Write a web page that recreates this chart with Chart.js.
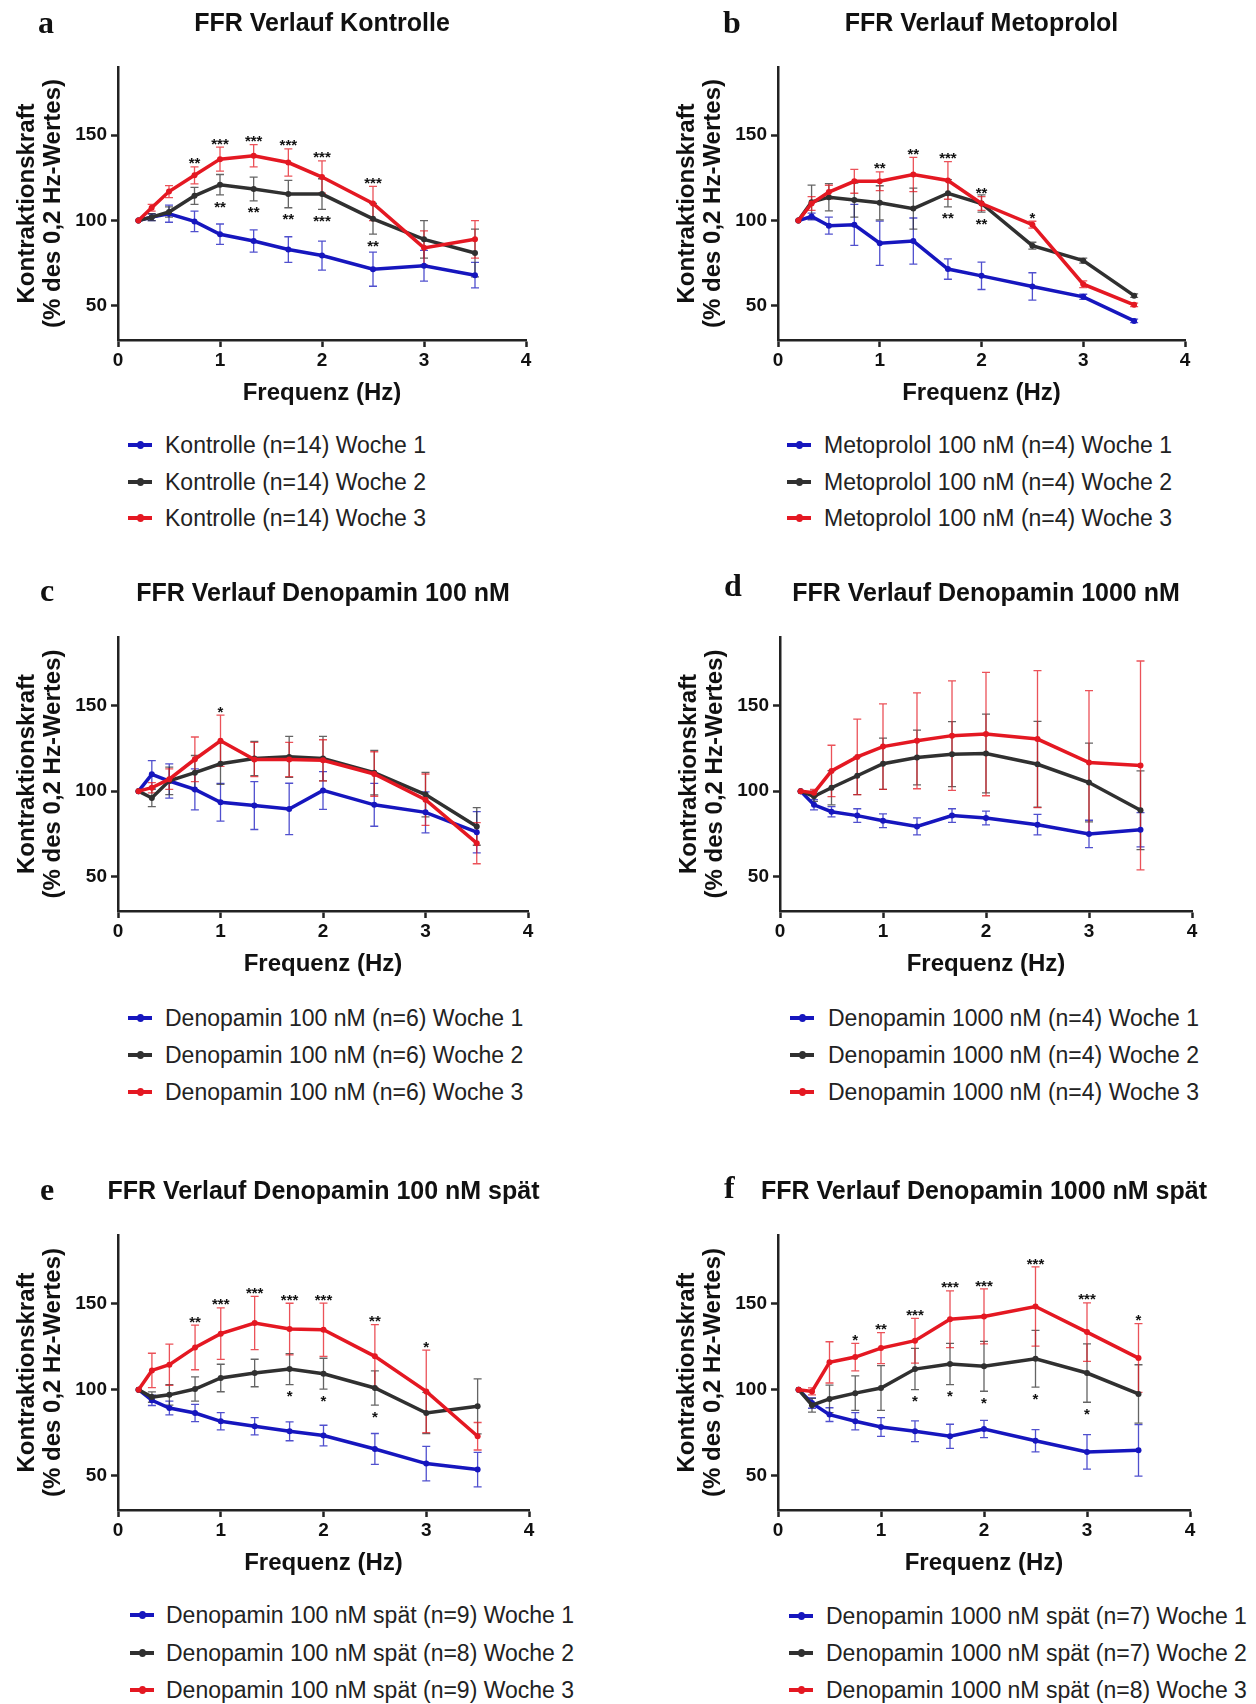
<!DOCTYPE html>
<html>
<head>
<meta charset="utf-8">
<script src="https://cdn.jsdelivr.net/npm/chart.js@4.4.1/dist/chart.umd.min.js"></script>
<style>
  body {
    margin: 0;
    width: 1256px;
    height: 1704px;
    position: relative;
    overflow: hidden;
    background: #fff;
    font-family: "Liberation Sans", Arial, sans-serif;
  }
  canvas {
    position: absolute;
  }
  .legend-marker {
    position: absolute;
    width: 24px;
    height: 4px;
  }
  .legend-marker span {
    position: absolute;
    left: 9px;
    top: -2px;
    width: 7px;
    height: 8px;
    border-radius: 50%;
  }
  .legend-text {
    position: absolute;
    height: 30px;
    line-height: 30px;
    font-size: 23px;
    color: #222;
    white-space: nowrap;
  }
</style>
</head>
<body>
<canvas id="chartA"></canvas>
<canvas id="chartB"></canvas>
<canvas id="chartC"></canvas>
<canvas id="chartD"></canvas>
<canvas id="chartE"></canvas>
<canvas id="chartF"></canvas>
<script>
// Frequenzen (Hz) und Achsenbeschriftung
const freqHz = [0.2, 0.33, 0.5, 0.75, 1, 1.33, 1.67, 2, 2.5, 3, 3.5];
const xTicks = [0, 1, 2, 3, 4];
const yTicks = [50, 100, 150];

// a - Kontrolle
const kontrolleLabels = ["Kontrolle (n=14) Woche 1", "Kontrolle (n=14) Woche 2", "Kontrolle (n=14) Woche 3"];
const kontrolleW1 = [100, 102, 104, 99.5, 92, 88, 83, 79.5, 71.5, 73.5, 68];
const kontrolleW1Sem = [0, 2, 5, 6, 6, 6.5, 7.5, 8.5, 10, 9, 7.5];
const kontrolleW2 = [100, 102, 105, 114.5, 121, 118.5, 115.5, 115.5, 101, 89, 81];
const kontrolleW2Sem = [0, 2, 3, 5, 6, 7, 8, 9, 9, 11, 14];
const kontrolleW3 = [100, 107.5, 117, 126.5, 136, 138, 134, 125.5, 110, 84, 89];
const kontrolleW3Sem = [0, 2, 3.5, 5, 7, 6.5, 8, 9.5, 10, 10, 11];
const kontrolleStarsW3 = ["", "", "", "**", "***", "***", "***", "***", "***", "", ""];
const kontrolleStarsW2 = ["", "", "", "", "**", "**", "**", "***", "**", "", ""];

// b - Metoprolol
const metoLabels = ["Metoprolol 100 nM (n=4) Woche 1", "Metoprolol 100 nM (n=4) Woche 2", "Metoprolol 100 nM (n=4) Woche 3"];
const metoW1 = [100, 102.4, 97, 97.5, 86.7, 88, 71.6, 67.6, 61.4, 55.3, 41.2];
const metoW1Sem = [0, 2, 5, 12, 13, 13.5, 6, 8, 8, 1.5, 1];
const metoW2 = [100, 110.8, 113.7, 112, 110.4, 107, 116, 110, 85.3, 76.5, 56];
const metoW2Sem = [0, 10, 8, 10, 10, 12, 8, 5, 2, 1.5, 1];
const metoW3 = [100, 110, 116.7, 123, 123, 127, 123.5, 110, 97.6, 62.7, 50.6];
const metoW3Sem = [0, 4, 4, 7, 5.5, 10, 11, 4, 2, 2, 1];
const metoStarsW3 = ["", "", "", "", "**", "**", "***", "**", "*", "", ""];
const metoStarsW2 = ["", "", "", "", "", "", "**", "**", "", "", ""];

// c - Denopamin 100 nM
const deno100Labels = ["Denopamin 100 nM (n=6) Woche 1", "Denopamin 100 nM (n=6) Woche 2", "Denopamin 100 nM (n=6) Woche 3"];
const deno100W1 = [100, 109.8, 105.9, 101, 93.5, 91.6, 89.6, 100.4, 92, 87.6, 76];
const deno100W1Sem = [0, 8, 10, 12, 11, 14, 15, 11, 12.5, 12, 12];
const deno100W2 = [100, 96, 106, 110.8, 116, 119, 120, 119, 110.8, 98, 79.4];
const deno100W2Sem = [0, 5, 8, 10, 12, 10, 12, 13, 13, 13, 11];
const deno100W3 = [100, 102, 107, 118.6, 129.4, 118.5, 118.5, 118, 110, 95, 69.6];
const deno100W3Sem = [0, 3, 6, 13, 15, 10, 10, 12, 13, 15, 12];
const deno100StarsW3 = ["", "", "", "", "*", "", "", "", "", "", ""];
const deno100StarsW2 = ["", "", "", "", "", "", "", "", "", "", ""];

// d - Denopamin 1000 nM
const deno1000Labels = ["Denopamin 1000 nM (n=4) Woche 1", "Denopamin 1000 nM (n=4) Woche 2", "Denopamin 1000 nM (n=4) Woche 3"];
const deno1000W1 = [100, 92, 88, 85.7, 82.7, 79.4, 85.7, 84.3, 80.4, 75, 77.5];
const deno1000W1Sem = [0, 3, 3, 4, 4, 5, 4, 4, 6, 8, 10];
const deno1000W2 = [100, 97, 102, 109, 116, 119.6, 121.6, 122, 115.7, 105, 88.8];
const deno1000W2Sem = [0, 3, 10, 11, 15, 16, 19, 23, 25, 23, 23];
const deno1000W3 = [100, 99, 111.8, 120, 126, 129.4, 132.4, 133.3, 130.4, 116.7, 115];
const deno1000W3Sem = [0, 2, 15, 22, 25, 28, 32, 36, 40, 42, 61];
const deno1000StarsW3 = ["", "", "", "", "", "", "", "", "", "", ""];
const deno1000StarsW2 = ["", "", "", "", "", "", "", "", "", "", ""];

// e - Denopamin 100 nM spät
const deno100SpaetLabels = ["Denopamin 100 nM spät (n=9) Woche 1", "Denopamin 100 nM spät (n=8) Woche 2", "Denopamin 100 nM spät (n=9) Woche 3"];
const deno100SpaetW1 = [100, 93.8, 89.3, 86.4, 81.6, 78.7, 75.8, 73.3, 65.5, 57, 53.5];
const deno100SpaetW1Sem = [0, 3, 4, 5, 5, 5, 5.5, 6, 9, 10, 10];
const deno100SpaetW2 = [100, 95.7, 97, 100.4, 106.8, 109.7, 112, 109.3, 101, 86.4, 90.3];
const deno100SpaetW2Sem = [0, 3, 6, 7, 8, 8, 9, 9, 10, 12, 16];
const deno100SpaetW3 = [100, 111.2, 114.5, 124.6, 132.6, 138.8, 135.3, 134.9, 119.4, 99, 72.9];
const deno100SpaetW3Sem = [0, 10, 12, 13, 15, 15.5, 15, 15.5, 18.4, 24, 8];
const deno100SpaetStarsW3 = ["", "", "", "**", "***", "***", "***", "***", "**", "*", ""];
const deno100SpaetStarsW2 = ["", "", "", "", "", "", "*", "*", "*", "", ""];

// f - Denopamin 1000 nM spät
const deno1000SpaetLabels = ["Denopamin 1000 nM spät (n=7) Woche 1", "Denopamin 1000 nM spät (n=7) Woche 2", "Denopamin 1000 nM spät (n=8) Woche 3"];
const deno1000SpaetW1 = [100, 92.2, 85.5, 81.6, 78.3, 75.8, 72.9, 77.1, 70.3, 63.8, 64.7];
const deno1000SpaetW1Sem = [0, 3, 4, 5, 5.5, 6, 7, 5, 6.5, 10, 15];
const deno1000SpaetW2 = [100, 91, 94.6, 98, 101, 112, 115, 113.6, 118, 109.7, 97.5];
const deno1000SpaetW2Sem = [0, 4, 8, 10, 13, 12, 12, 14.5, 16.5, 17, 17];
const deno1000SpaetW3 = [100, 99, 115.9, 119, 124.2, 128.5, 141, 142.6, 148.4, 133.5, 118.4];
const deno1000SpaetW3Sem = [0, 2, 12, 8, 9, 13, 16.5, 16, 23, 17, 20];
const deno1000SpaetStarsW3 = ["", "", "", "*", "**", "***", "***", "***", "***", "***", "*"];
const deno1000SpaetStarsW2 = ["", "", "", "", "", "*", "*", "*", "*", "*", ""];

const seriesColors = ["rgb(22, 22, 190)", "rgb(48, 48, 48)", "rgb(228, 24, 34)"];
const errorColors = ["rgba(22, 22, 190, 0.75)", "rgba(48, 48, 48, 0.75)", "rgba(228, 24, 34, 0.75)"];
const textColor = "#111";
const fontFamily = "'Liberation Sans', Arial, sans-serif";

Chart.defaults.font.family = fontFamily;
Chart.defaults.color = textColor;

// Fehlerbalken (SEM) hinter den Linien
const errorBars = {
  id: "errorBars",
  beforeDatasetsDraw(chart, args, opts) {
    const { ctx } = chart;
    const x = chart.scales.x;
    const y = chart.scales.y;
    ctx.save();
    ctx.lineWidth = opts.lineWidth;
    chart.data.datasets.forEach((ds) => {
      ctx.strokeStyle = ds.errorColor;
      ds.data.forEach((pt, i) => {
        const e = ds.sem[i];
        if (!e) return;
        const px = x.getPixelForValue(pt.x);
        const top = y.getPixelForValue(pt.y + e);
        const bot = y.getPixelForValue(pt.y - e);
        const c = opts.capWidth / 2;
        ctx.beginPath();
        ctx.moveTo(px, top);
        ctx.lineTo(px, bot);
        ctx.moveTo(px - c, top);
        ctx.lineTo(px + c, top);
        ctx.moveTo(px - c, bot);
        ctx.lineTo(px + c, bot);
        ctx.stroke();
      });
    });
    ctx.restore();
  },
};

// Signifikanzsterne über Woche 3 und unter Woche 2
const significance = {
  id: "significance",
  afterDatasetsDraw(chart, args, opts) {
    const { ctx } = chart;
    const x = chart.scales.x;
    const y = chart.scales.y;
    const lift = opts.size * 0.57;
    ctx.save();
    ctx.font = "bold " + opts.size + "px " + fontFamily;
    ctx.fillStyle = textColor;
    ctx.textAlign = "center";
    ctx.textBaseline = "alphabetic";
    opts.marks.forEach((m) => {
      const ds = chart.data.datasets[m.dataset];
      m.stars.forEach((s, i) => {
        if (!s) return;
        const pt = ds.data[i];
        const px = x.getPixelForValue(pt.x);
        let py;
        if (m.side === "above") {
          py = y.getPixelForValue(pt.y + ds.sem[i]) - opts.gapAbove + lift;
        } else {
          py = y.getPixelForValue(pt.y - ds.sem[i]) + opts.gapBelow + lift;
        }
        ctx.fillText(s, px, py);
      });
    });
    ctx.restore();
  },
};

// Buchstabe und Titel der Teilabbildung
const panelHeading = {
  id: "panelHeading",
  afterDraw(chart, args, opts) {
    const { ctx, chartArea } = chart;
    ctx.save();
    ctx.fillStyle = textColor;
    ctx.textBaseline = "alphabetic";
    ctx.font = "bold 25px " + fontFamily;
    ctx.textAlign = "center";
    ctx.fillText(opts.title, (chartArea.left + chartArea.right) / 2, opts.titleBaseline);
    ctx.font = "bold 32px 'Liberation Serif', 'Times New Roman', serif";
    ctx.textAlign = "left";
    ctx.fillText(opts.letter, opts.letterX, opts.letterBaseline);
    ctx.restore();
  },
};

Chart.register(errorBars, significance, panelHeading);

const panels = [
  {
    canvas: "chartA", left: 0, top: 0, width: 640, plotRight: 526, plotBottom: 340,
    letter: "a", letterX: 38, letterBaseline: 33,
    legendMarkerX: 128, legendTextX: 165, legendRows: [445, 482, 518],
    title: "FFR Verlauf Kontrolle", labels: kontrolleLabels,
    means: [kontrolleW1, kontrolleW2, kontrolleW3],
    sems: [kontrolleW1Sem, kontrolleW2Sem, kontrolleW3Sem],
    starsAbove: kontrolleStarsW3, starsBelow: kontrolleStarsW2,
  },
  {
    canvas: "chartB", left: 660, top: 0, width: 596, plotRight: 525, plotBottom: 340,
    letter: "b", letterX: 63, letterBaseline: 33,
    legendMarkerX: 787, legendTextX: 824, legendRows: [445, 482, 518],
    title: "FFR Verlauf Metoprolol", labels: metoLabels,
    means: [metoW1, metoW2, metoW3],
    sems: [metoW1Sem, metoW2Sem, metoW3Sem],
    starsAbove: metoStarsW3, starsBelow: metoStarsW2,
  },
  {
    canvas: "chartC", left: 0, top: 570, width: 640, plotRight: 528, plotBottom: 341,
    letter: "c", letterX: 40, letterBaseline: 31,
    legendMarkerX: 128, legendTextX: 165, legendRows: [1018, 1055, 1092],
    title: "FFR Verlauf Denopamin 100 nM", labels: deno100Labels,
    means: [deno100W1, deno100W2, deno100W3],
    sems: [deno100W1Sem, deno100W2Sem, deno100W3Sem],
    starsAbove: deno100StarsW3, starsBelow: deno100StarsW2,
  },
  {
    canvas: "chartD", left: 662, top: 570, width: 594, plotRight: 530, plotBottom: 341,
    letter: "d", letterX: 62, letterBaseline: 26,
    legendMarkerX: 790, legendTextX: 828, legendRows: [1018, 1055, 1092],
    title: "FFR Verlauf Denopamin 1000 nM", labels: deno1000Labels,
    means: [deno1000W1, deno1000W2, deno1000W3],
    sems: [deno1000W1Sem, deno1000W2Sem, deno1000W3Sem],
    starsAbove: deno1000StarsW3, starsBelow: deno1000StarsW2,
  },
  {
    canvas: "chartE", left: 0, top: 1168, width: 640, plotRight: 529, plotBottom: 342,
    letter: "e", letterX: 40, letterBaseline: 32,
    legendMarkerX: 130, legendTextX: 166, legendRows: [1615, 1653, 1690],
    title: "FFR Verlauf Denopamin 100 nM spät", labels: deno100SpaetLabels,
    means: [deno100SpaetW1, deno100SpaetW2, deno100SpaetW3],
    sems: [deno100SpaetW1Sem, deno100SpaetW2Sem, deno100SpaetW3Sem],
    starsAbove: deno100SpaetStarsW3, starsBelow: deno100SpaetStarsW2,
  },
  {
    canvas: "chartF", left: 660, top: 1168, width: 596, plotRight: 530, plotBottom: 342,
    letter: "f", letterX: 64, letterBaseline: 30,
    legendMarkerX: 789, legendTextX: 826, legendRows: [1616, 1653, 1690],
    title: "FFR Verlauf Denopamin 1000 nM spät", labels: deno1000SpaetLabels,
    means: [deno1000SpaetW1, deno1000SpaetW2, deno1000SpaetW3],
    sems: [deno1000SpaetW1Sem, deno1000SpaetW2Sem, deno1000SpaetW3Sem],
    starsAbove: deno1000SpaetStarsW3, starsBelow: deno1000SpaetStarsW2,
  },
];

const plotTop = 67;
const axisX = 118;
const xAxisHeight = 70;

function buildLegend(chart, p) {
  chart.data.datasets.forEach((ds, i) => {
    const cy = p.legendRows[i];
    const marker = document.createElement("div");
    marker.className = "legend-marker";
    marker.style.left = p.legendMarkerX + "px";
    marker.style.top = (cy - 2) + "px";
    marker.style.background = ds.borderColor;
    const dot = document.createElement("span");
    dot.style.background = ds.borderColor;
    marker.appendChild(dot);
    document.body.appendChild(marker);

    const text = document.createElement("div");
    text.className = "legend-text";
    text.style.left = p.legendTextX + "px";
    text.style.top = (cy - 15) + "px";
    text.textContent = ds.label;
    document.body.appendChild(text);
  });
}

panels.forEach((p) => {
  const canvas = document.getElementById(p.canvas);
  const height = p.plotBottom + xAxisHeight + 2;
  canvas.width = p.width;
  canvas.height = height;
  canvas.style.left = p.left + "px";
  canvas.style.top = p.top + "px";

  const datasets = p.means.map((m, k) => ({
    label: p.labels[k],
    data: freqHz.map((f, i) => ({ x: f, y: m[i] })),
    sem: p.sems[k],
    borderColor: seriesColors[k],
    backgroundColor: seriesColors[k],
    errorColor: errorColors[k],
    borderWidth: 3.5,
    pointRadius: 3,
    pointBorderWidth: 0,
    tension: 0,
    order: 3 - k,
  }));

  const chart = new Chart(canvas, {
    type: "line",
    data: { datasets: datasets },
    options: {
      responsive: false,
      animation: false,
      layout: {
        padding: { top: plotTop, right: p.width - p.plotRight, bottom: 2, left: 0 },
      },
      plugins: {
        legend: { display: false },
        tooltip: { enabled: false },
        errorBars: { lineWidth: 1.3, capWidth: 8 },
        significance: {
          size: 15,
          gapAbove: 7,
          gapBelow: 8,
          marks: [
            { dataset: 2, side: "above", stars: p.starsAbove },
            { dataset: 1, side: "below", stars: p.starsBelow },
          ],
        },
        panelHeading: {
          title: p.title,
          titleBaseline: 31,
          letter: p.letter,
          letterX: p.letterX,
          letterBaseline: p.letterBaseline,
        },
      },
      scales: {
        x: {
          type: "linear",
          min: 0,
          max: 4,
          afterBuildTicks: (axis) => {
            axis.ticks = xTicks.map((v) => ({ value: v }));
          },
          afterFit: (scale) => {
            scale.height = xAxisHeight;
          },
          grid: {
            drawOnChartArea: false,
            drawTicks: true,
            tickLength: 7,
            tickWidth: 2.5,
            tickColor: "#222",
          },
          border: { display: true, width: 2.5, color: "#222" },
          ticks: {
            padding: 2,
            color: textColor,
            font: { size: 19, weight: "bold" },
            maxRotation: 0,
          },
          title: {
            display: true,
            text: "Frequenz (Hz)",
            color: textColor,
            font: { size: 24, weight: "bold" },
            padding: { top: 0, bottom: 2 },
          },
        },
        y: {
          type: "linear",
          min: 30,
          max: 190,
          afterBuildTicks: (axis) => {
            axis.ticks = yTicks.map((v) => ({ value: v }));
          },
          afterFit: (scale) => {
            scale.width = axisX;
          },
          grid: {
            drawOnChartArea: false,
            drawTicks: true,
            tickLength: 7,
            tickWidth: 2.5,
            tickColor: "#222",
          },
          border: { display: true, width: 2.5, color: "#222" },
          ticks: {
            padding: 4,
            color: textColor,
            font: { size: 19, weight: "bold" },
          },
          title: {
            display: true,
            text: ["Kontraktionskraft", "(% des 0,2 Hz-Wertes)"],
            color: textColor,
            font: { size: 24, weight: "bold", lineHeight: 26 / 24 },
            padding: { top: 14, bottom: 0 },
          },
        },
      },
    },
  });

  buildLegend(chart, p);
});
</script>
</body>
</html>
